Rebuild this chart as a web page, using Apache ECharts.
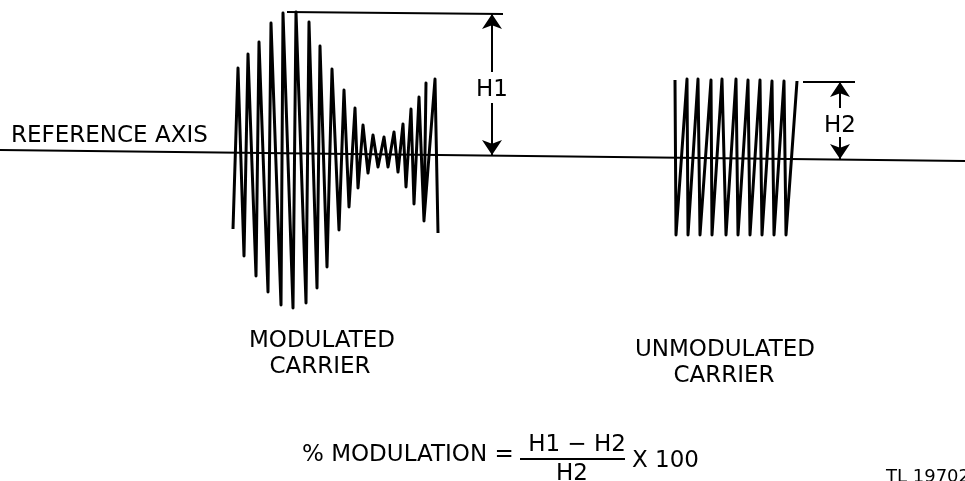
<!DOCTYPE html>
<html>
<head>
<meta charset="utf-8">
<script src="https://cdn.jsdelivr.net/npm/echarts@6/dist/echarts.min.js"></script>
<style>
  html, body { margin: 0; padding: 0; background: #fff; }
  #chart { width: 965px; height: 481px; }
</style>
</head>
<body>
<div id="chart"></div>
<script>
  // everything is in page units: x 0..965, y 0..481 measured downward
  let referenceAxis = [[0, 150], [965, 161]];

  // modulated carrier, alternating bottom / top turning points
  let modulated = [
    [233, 229], [238, 68], [244, 256], [248, 54], [256, 276], [259, 42],
    [268, 292], [271, 23], [281, 305], [283, 13], [293, 308], [296, 12],
    [306, 303], [309, 22], [317, 288], [320, 46], [327, 267], [332, 69],
    [339, 230], [344, 90], [349, 207], [355, 108], [358, 188], [363, 125],
    [368, 173], [373, 135], [378, 167], [384, 137], [388, 167], [394, 132],
    [398, 172], [403, 124], [406, 187], [411, 109], [414, 204], [419, 97],
    [424, 221], [426, 83], [424, 220], [435, 79], [438, 233]
  ];

  // unmodulated carrier, alternating top / bottom
  let unmodulated = [
    [675, 80], [676, 235], [687, 79], [688, 235], [698, 79], [700, 235],
    [711, 80], [712, 235], [722, 79], [726, 235], [736, 79], [738, 235],
    [748, 80], [750, 235], [760, 80], [762, 235], [772, 81], [774, 235],
    [784, 81], [786, 235], [797, 81]
  ];

  // dimension lines
  let extensionLines = [
    [[287, 12], [503, 14]],
    [[803, 82], [855, 82]],
    [[520, 459], [625, 459]]
  ];
  let arrowLines = [
    [[492, 72], [492, 14]],
    [[492, 103], [492, 155]],
    [[840, 108], [840, 82]],
    [[840, 137], [840, 159]]
  ];

  let chart = echarts.init(document.getElementById('chart'));
  let ink = '#000';

  let txt = (text, x, y, align, size) => ({
    type: 'text',
    style: {
      text: text, x: x, y: y,
      fill: ink,
      font: (size || 23) + 'px "DejaVu Sans"',
      textAlign: align || 'center', align: align || 'center',
      textVerticalAlign: 'middle', verticalAlign: 'middle'
    }
  });

  let option = {
    backgroundColor: '#fff',
    animation: false,
    grid: { left: 0, right: 0, top: 0, bottom: 0 },
    xAxis: { type: 'value', min: 0, max: 965, show: false },
    yAxis: { type: 'value', min: 0, max: 481, inverse: true, show: false },
    series: [
      {
        type: 'line', data: referenceAxis, showSymbol: false, silent: true,
        lineStyle: { color: ink, width: 2 }
      },
      {
        type: 'line', data: modulated, showSymbol: false, silent: true,
        lineStyle: { color: ink, width: 3, join: 'round' }
      },
      {
        type: 'line', data: unmodulated, showSymbol: false, silent: true,
        lineStyle: { color: ink, width: 3, join: 'round' }
      },
      {
        type: 'lines', coordinateSystem: 'cartesian2d', silent: true,
        data: extensionLines.map((c) => ({ coords: c })),
        lineStyle: { color: ink, width: 2, opacity: 1 }
      },
      {
        type: 'lines', coordinateSystem: 'cartesian2d', silent: true,
        symbol: ['none', 'arrow'], symbolSize: [7, 15],
        data: arrowLines.map((c) => ({ coords: c })),
        lineStyle: { color: ink, width: 2, opacity: 1 },
        itemStyle: { color: ink }
      }
    ],
    graphic: [
      txt('REFERENCE AXIS', 11, 136, 'left'),
      txt('H1', 492, 90),
      txt('H2', 840, 126),
      txt('MODULATED', 322, 341),
      txt('CARRIER', 320, 367),
      txt('UNMODULATED', 725, 350),
      txt('CARRIER', 724, 376),
      txt('% MODULATION =', 302, 455, 'left'),
      txt('H1 − H2', 577, 445),
      txt('H2', 572, 474),
      txt('X 100', 632, 461, 'left'),
      txt('TL 19702', 886, 477, 'left', 18)
    ]
  };

  chart.setOption(option);
</script>
</body>
</html>
